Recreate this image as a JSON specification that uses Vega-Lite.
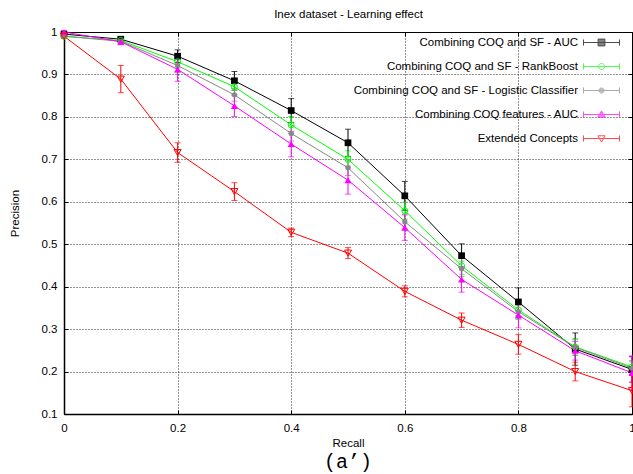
{
  "$schema": "https://vega.github.io/schema/vega-lite/v6.json",
  "width": 568,
  "height": 382,
  "autosize": {"type": "none"},
  "padding": {"left": 64, "top": 32, "right": 1, "bottom": 60},
  "config": {
    "font": "Liberation Sans",
    "view": {"stroke": "black", "strokeWidth": 1},
    "axis": {"labelFont": "Liberation Sans", "labelFontSize": 11.5, "labelColor": "black", "titleFont": "Liberation Sans", "titleFontSize": 11.5, "titleFontWeight": "normal", "titleColor": "black", "tickColor": "black", "domainColor": "black"}
  },
  "title": {"text": "(a’)", "orient": "bottom", "font": "Liberation Mono", "fontSize": 20, "fontWeight": "normal", "color": "black", "anchor": "middle", "offset": 3},
  "data": {"values": [
    {"series": "Combining COQ and SF - AUC", "recall": 0.0, "precision": 0.995, "err": 0.005},
    {"series": "Combining COQ and SF - AUC", "recall": 0.1, "precision": 0.983, "err": 0.006},
    {"series": "Combining COQ and SF - AUC", "recall": 0.2, "precision": 0.943, "err": 0.015},
    {"series": "Combining COQ and SF - AUC", "recall": 0.3, "precision": 0.885, "err": 0.022},
    {"series": "Combining COQ and SF - AUC", "recall": 0.4, "precision": 0.815, "err": 0.028},
    {"series": "Combining COQ and SF - AUC", "recall": 0.5, "precision": 0.739, "err": 0.032},
    {"series": "Combining COQ and SF - AUC", "recall": 0.6, "precision": 0.614, "err": 0.034},
    {"series": "Combining COQ and SF - AUC", "recall": 0.7, "precision": 0.473, "err": 0.028},
    {"series": "Combining COQ and SF - AUC", "recall": 0.8, "precision": 0.364, "err": 0.033},
    {"series": "Combining COQ and SF - AUC", "recall": 0.9, "precision": 0.253, "err": 0.038},
    {"series": "Combining COQ and SF - AUC", "recall": 1.0, "precision": 0.205, "err": 0.03},
    {"series": "Combining COQ and SF - RankBoost", "recall": 0.0, "precision": 0.99, "err": 0.005},
    {"series": "Combining COQ and SF - RankBoost", "recall": 0.1, "precision": 0.98, "err": 0.006},
    {"series": "Combining COQ and SF - RankBoost", "recall": 0.2, "precision": 0.93, "err": 0.015},
    {"series": "Combining COQ and SF - RankBoost", "recall": 0.3, "precision": 0.871, "err": 0.018},
    {"series": "Combining COQ and SF - RankBoost", "recall": 0.4, "precision": 0.781, "err": 0.02},
    {"series": "Combining COQ and SF - RankBoost", "recall": 0.5, "precision": 0.70, "err": 0.02},
    {"series": "Combining COQ and SF - RankBoost", "recall": 0.6, "precision": 0.579, "err": 0.02},
    {"series": "Combining COQ and SF - RankBoost", "recall": 0.7, "precision": 0.449, "err": 0.02},
    {"series": "Combining COQ and SF - RankBoost", "recall": 0.8, "precision": 0.345, "err": 0.02},
    {"series": "Combining COQ and SF - RankBoost", "recall": 0.9, "precision": 0.258, "err": 0.02},
    {"series": "Combining COQ and SF - RankBoost", "recall": 1.0, "precision": 0.211, "err": 0.015},
    {"series": "Combining COQ and SF - Logistic Classifier", "recall": 0.0, "precision": 0.99, "err": 0.005},
    {"series": "Combining COQ and SF - Logistic Classifier", "recall": 0.1, "precision": 0.978, "err": 0.006},
    {"series": "Combining COQ and SF - Logistic Classifier", "recall": 0.2, "precision": 0.921, "err": 0.015},
    {"series": "Combining COQ and SF - Logistic Classifier", "recall": 0.3, "precision": 0.852, "err": 0.015},
    {"series": "Combining COQ and SF - Logistic Classifier", "recall": 0.4, "precision": 0.761, "err": 0.018},
    {"series": "Combining COQ and SF - Logistic Classifier", "recall": 0.5, "precision": 0.68, "err": 0.018},
    {"series": "Combining COQ and SF - Logistic Classifier", "recall": 0.6, "precision": 0.553, "err": 0.018},
    {"series": "Combining COQ and SF - Logistic Classifier", "recall": 0.7, "precision": 0.442, "err": 0.018},
    {"series": "Combining COQ and SF - Logistic Classifier", "recall": 0.8, "precision": 0.341, "err": 0.018},
    {"series": "Combining COQ and SF - Logistic Classifier", "recall": 0.9, "precision": 0.257, "err": 0.018},
    {"series": "Combining COQ and SF - Logistic Classifier", "recall": 1.0, "precision": 0.208, "err": 0.015},
    {"series": "Combining COQ features - AUC", "recall": 0.0, "precision": 1.0, "err": 0.003},
    {"series": "Combining COQ features - AUC", "recall": 0.1, "precision": 0.977, "err": 0.007},
    {"series": "Combining COQ features - AUC", "recall": 0.2, "precision": 0.912, "err": 0.028},
    {"series": "Combining COQ features - AUC", "recall": 0.3, "precision": 0.826, "err": 0.025},
    {"series": "Combining COQ features - AUC", "recall": 0.4, "precision": 0.736, "err": 0.03},
    {"series": "Combining COQ features - AUC", "recall": 0.5, "precision": 0.651, "err": 0.033},
    {"series": "Combining COQ features - AUC", "recall": 0.6, "precision": 0.539, "err": 0.03},
    {"series": "Combining COQ features - AUC", "recall": 0.7, "precision": 0.417, "err": 0.03},
    {"series": "Combining COQ features - AUC", "recall": 0.8, "precision": 0.333, "err": 0.03},
    {"series": "Combining COQ features - AUC", "recall": 0.9, "precision": 0.249, "err": 0.022},
    {"series": "Combining COQ features - AUC", "recall": 1.0, "precision": 0.197, "err": 0.04},
    {"series": "Extended Concepts", "recall": 0.0, "precision": 0.99, "err": 0.004},
    {"series": "Extended Concepts", "recall": 0.1, "precision": 0.889, "err": 0.032},
    {"series": "Extended Concepts", "recall": 0.2, "precision": 0.716, "err": 0.023},
    {"series": "Extended Concepts", "recall": 0.3, "precision": 0.624, "err": 0.021},
    {"series": "Extended Concepts", "recall": 0.4, "precision": 0.528, "err": 0.01},
    {"series": "Extended Concepts", "recall": 0.5, "precision": 0.479, "err": 0.013},
    {"series": "Extended Concepts", "recall": 0.6, "precision": 0.389, "err": 0.013},
    {"series": "Extended Concepts", "recall": 0.7, "precision": 0.321, "err": 0.017},
    {"series": "Extended Concepts", "recall": 0.8, "precision": 0.264, "err": 0.023},
    {"series": "Extended Concepts", "recall": 0.9, "precision": 0.2, "err": 0.022},
    {"series": "Extended Concepts", "recall": 1.0, "precision": 0.155, "err": 0.038}
  ]},
  "resolve": {"axis": {"x": "independent", "y": "independent"}},
  "layer": [
    {
      "transform": [{"filter": "datum.recall > 5"}],
      "mark": {"type": "point", "filled": true, "size": 1296, "strokeWidth": 1},
      "encoding": {
        "x": {"field": "recall", "type": "quantitative", "scale": {"domain": [0, 1], "nice": false, "zero": false},
          "axis": {"title": "Recall", "values": [0, 0.2, 0.4, 0.6, 0.8, 1], "format": "~g", "labelFlush": false, "grid": true, "gridColor": "black", "gridDash": [1, 2], "gridWidth": 1, "gridOpacity": 0.85, "tickSize": -4, "labelPadding": 12, "titlePadding": 4, "domainWidth": 1.5}},
        "y": {"field": "precision", "type": "quantitative", "scale": {"domain": [0.1, 1], "nice": false, "zero": false},
          "axis": {"title": "Precision", "values": [0.1, 0.2, 0.3, 0.4, 0.5, 0.6, 0.7, 0.8, 0.9, 1], "format": "~g", "grid": true, "gridColor": "black", "gridDash": [1, 2], "gridWidth": 1, "gridOpacity": 0.85, "tickSize": -4, "labelPadding": 11, "titlePadding": 21, "titleY": 181, "domainWidth": 1.5}},
        "stroke": {"field": "series", "type": "nominal",
          "scale": {"domain": ["Combining COQ and SF - AUC", "Combining COQ and SF - RankBoost", "Combining COQ and SF - Logistic Classifier", "Combining COQ features - AUC", "Extended Concepts"],
            "range": ["#000000", "#00ff00", "#888888", "#ff00ff", "#ff0000"]},
          "legend": {"title": null, "orient": "none", "legendX": 516, "legendY": -11, "padding": 3, "symbolSize": 1296, "symbolStrokeWidth": 1, "labelFont": "Liberation Sans", "labelFontSize": 11.5, "labelLimit": 400, "labelAlign": "right", "labelOffset": -42, "rowPadding": -12,
            "encode": {"labels": {"fill": {"condition": [
              {"test": "datum.value === 'Combining COQ and SF - RankBoost'", "value": "#00ff00"},
              {"test": "datum.value === 'Combining COQ and SF - Logistic Classifier'", "value": "#888888"},
              {"test": "datum.value === 'Combining COQ features - AUC'", "value": "#ff00ff"},
              {"test": "datum.value === 'Extended Concepts'", "value": "#ff0000"}], "value": "#000000"}}}}},
        "fill": {"field": "series", "type": "nominal",
          "scale": {"domain": ["Combining COQ and SF - AUC", "Combining COQ and SF - RankBoost", "Combining COQ and SF - Logistic Classifier", "Combining COQ features - AUC", "Extended Concepts"],
            "range": ["#000000", "#ffffff", "#888888", "#ff00ff", "#ffffff"]},
          "legend": {"title": null, "orient": "none", "legendX": 516, "legendY": -11, "padding": 3, "symbolSize": 1296, "symbolStrokeWidth": 1, "labelFont": "Liberation Sans", "labelFontSize": 11.5, "labelLimit": 400, "labelAlign": "right", "labelOffset": -42, "rowPadding": -12,
            "encode": {"labels": {"fill": {"condition": [
              {"test": "datum.value === 'Combining COQ and SF - RankBoost'", "value": "#00ff00"},
              {"test": "datum.value === 'Combining COQ and SF - Logistic Classifier'", "value": "#888888"},
              {"test": "datum.value === 'Combining COQ features - AUC'", "value": "#ff00ff"},
              {"test": "datum.value === 'Extended Concepts'", "value": "#ff0000"}], "value": "#000000"}}}}},
        "shape": {"field": "series", "type": "nominal",
          "scale": {"domain": ["Combining COQ and SF - AUC", "Combining COQ and SF - RankBoost", "Combining COQ and SF - Logistic Classifier", "Combining COQ features - AUC", "Extended Concepts"],
            "range": [
              "M-1,0L1,0M-1,-0.17L-1,0.17M1,-0.17L1,0.17M-0.19,-0.19L0.19,-0.19L0.19,0.19L-0.19,0.19Z",
              "M-1,0L1,0M-1,-0.17L-1,0.17M1,-0.17L1,0.17M-0.17,0A0.17,0.17 0 1,0 0.17,0A0.17,0.17 0 1,0 -0.17,0Z",
              "M-1,0L1,0M-1,-0.17L-1,0.17M1,-0.17L1,0.17M-0.14,0A0.14,0.14 0 1,0 0.14,0A0.14,0.14 0 1,0 -0.14,0Z",
              "M-1,0L1,0M-1,-0.17L-1,0.17M1,-0.17L1,0.17M0,-0.2L0.2,0.15L-0.2,0.15Z",
              "M-1,0L1,0M-1,-0.17L-1,0.17M1,-0.17L1,0.17M0,0.2L0.2,-0.15L-0.2,-0.15Z"
            ]},
          "legend": {"title": null, "orient": "none", "legendX": 516, "legendY": -11, "padding": 3, "symbolSize": 1296, "symbolStrokeWidth": 1, "labelFont": "Liberation Sans", "labelFontSize": 11.5, "labelLimit": 400, "labelAlign": "right", "labelOffset": -42, "rowPadding": -12,
            "encode": {"labels": {"fill": {"condition": [
              {"test": "datum.value === 'Combining COQ and SF - RankBoost'", "value": "#00ff00"},
              {"test": "datum.value === 'Combining COQ and SF - Logistic Classifier'", "value": "#888888"},
              {"test": "datum.value === 'Combining COQ features - AUC'", "value": "#ff00ff"},
              {"test": "datum.value === 'Extended Concepts'", "value": "#ff0000"}], "value": "#000000"}}}}}
      }
    },
    {
      "mark": {"type": "line", "strokeWidth": 1},
      "encoding": {
        "x": {"field": "recall", "type": "quantitative", "axis": null},
        "y": {"field": "precision", "type": "quantitative", "axis": null},
        "color": {"field": "series", "type": "nominal", "legend": null,
          "scale": {"domain": ["Combining COQ and SF - AUC", "Combining COQ and SF - RankBoost", "Combining COQ and SF - Logistic Classifier", "Combining COQ features - AUC", "Extended Concepts"],
            "range": ["#000000", "#00ff00", "#888888", "#ff00ff", "#ff0000"]}}
      }
    },
    {
      "mark": {"type": "errorbar", "ticks": {"size": 6, "thickness": 1}, "thickness": 1},
      "encoding": {
        "x": {"field": "recall", "type": "quantitative", "axis": null},
        "y": {"field": "precision", "type": "quantitative", "axis": null},
        "yError": {"field": "err"},
        "color": {"field": "series", "type": "nominal", "legend": null}
      }
    },
    {
      "transform": [{"filter": "datum.series === 'Combining COQ and SF - AUC'"}],
      "mark": {"type": "point", "shape": "square", "filled": true, "size": 45, "color": "#000000", "opacity": 1},
      "encoding": {
        "x": {"field": "recall", "type": "quantitative",
          "axis": {"orient": "top", "title": "Inex dataset - Learning effect", "values": [0, 0.2, 0.4, 0.6, 0.8, 1], "labels": false, "grid": false, "domain": false, "tickSize": -4, "titlePadding": 12}},
        "y": {"field": "precision", "type": "quantitative",
          "axis": {"orient": "right", "title": null, "values": [0.1, 0.2, 0.3, 0.4, 0.5, 0.6, 0.7, 0.8, 0.9, 1], "labels": false, "grid": false, "domain": false, "tickSize": -4}}
      }
    },
    {
      "transform": [{"filter": "datum.series === 'Combining COQ and SF - RankBoost'"}],
      "mark": {"type": "point", "shape": "circle", "filled": false, "size": 36, "color": "#00ff00", "strokeWidth": 1, "opacity": 1},
      "encoding": {
        "x": {"field": "recall", "type": "quantitative", "axis": null},
        "y": {"field": "precision", "type": "quantitative", "axis": null}
      }
    },
    {
      "transform": [{"filter": "datum.series === 'Combining COQ and SF - Logistic Classifier'"}],
      "mark": {"type": "point", "shape": "circle", "filled": true, "size": 28, "color": "#888888", "opacity": 1},
      "encoding": {
        "x": {"field": "recall", "type": "quantitative", "axis": null},
        "y": {"field": "precision", "type": "quantitative", "axis": null}
      }
    },
    {
      "transform": [{"filter": "datum.series === 'Combining COQ features - AUC'"}],
      "mark": {"type": "point", "shape": "triangle-up", "filled": true, "size": 50, "color": "#ff00ff", "opacity": 1},
      "encoding": {
        "x": {"field": "recall", "type": "quantitative", "axis": null},
        "y": {"field": "precision", "type": "quantitative", "axis": null}
      }
    },
    {
      "transform": [{"filter": "datum.series === 'Extended Concepts'"}],
      "mark": {"type": "point", "shape": "triangle-down", "filled": false, "size": 50, "color": "#ff0000", "strokeWidth": 1, "opacity": 1},
      "encoding": {
        "x": {"field": "recall", "type": "quantitative", "axis": null},
        "y": {"field": "precision", "type": "quantitative", "axis": null}
      }
    }
  ]
}
